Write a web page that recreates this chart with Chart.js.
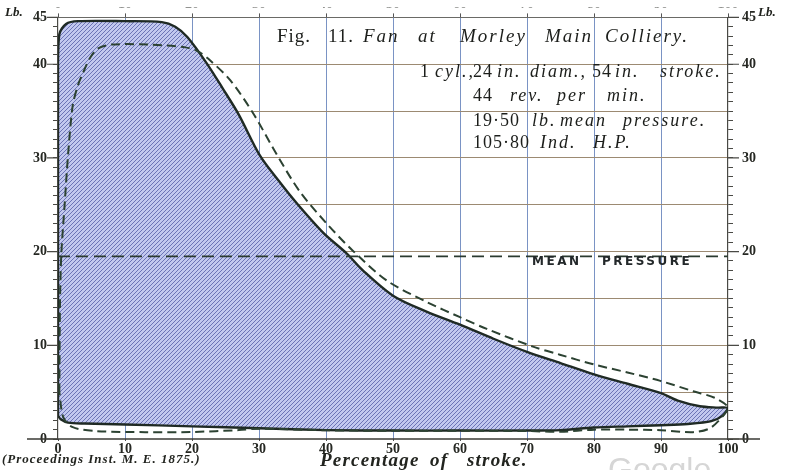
<!DOCTYPE html>
<html><head><meta charset="utf-8">
<script src="https://cdn.jsdelivr.net/npm/chart.js@4.4.0/dist/chart.umd.min.js"></script>
<style>html,body{margin:0;padding:0;background:#fff;overflow:hidden}#wrap{position:relative;width:788px;height:470px}</style>
</head><body><div id="wrap"><canvas id="c" width="788" height="470"></canvas></div>
<script>
// ---- data ----
const strokeMin = 0, strokeMax = 100, strokeStep = 10;      // percentage of stroke
const pressureMin = 0, pressureMax = 45;                      // lb
const pressureLabels = [0, 10, 20, 30, 40, 45];
const meanPressure = 19.5;
const meanX = [0, 100];

// actual indicator diagram (solid, filled loop)
const solidX = [0, 0, 0, 0, 0.2, 1.2, 3, 10, 15.5, 17.5, 19.3, 22.2, 24.6, 27, 30.1, 33, 35.7, 39.6, 43.1, 45.5, 50, 55, 60, 65, 70, 75, 80, 85, 90, 92.5, 95.8, 98.5, 100, 99.2, 97.5, 94, 90, 85, 80, 75, 70, 60, 50, 40, 30, 20, 10, 4, 1.5, 0.4, 0];
const solidY = [2.5, 5, 20, 40, 43.2, 44.3, 44.6, 44.6, 44.5, 44.0, 42.9, 40.1, 37.4, 34.6, 30.3, 27.5, 25.1, 22.0, 19.8, 18.0, 15.3, 13.6, 12.2, 10.7, 9.3, 8.1, 6.9, 5.9, 4.9, 4.1, 3.5, 3.35, 3.3, 2.5, 1.9, 1.6, 1.47, 1.35, 1.22, 0.95, 0.9, 0.9, 0.9, 0.95, 1.15, 1.35, 1.55, 1.65, 1.75, 2.1, 2.5];

// second diagram (dashed loop)
const dashX = [0.2, 0.3, 0.5, 1.0, 1.5, 2.2, 3.0, 3.8, 4.8, 6.0, 8, 13.7, 19, 20.8, 22.4, 25.7, 29.1, 32.7, 36.1, 40.1, 44, 49.1, 55.1, 60, 64, 70.9, 74.9, 79.9, 85, 89.9, 94.8, 98, 100, 99.3, 97.3, 94.8, 90, 85, 80, 75, 70, 60, 50, 40, 30, 27, 20, 13, 5.8, 2.2, 0.8, 0.2];
const dashY = [5, 14.6, 19.8, 25.1, 30.3, 35.6, 37.8, 39.2, 40.7, 41.7, 42.1, 42.1, 41.8, 41.4, 40.6, 38.3, 34.8, 30.3, 26.4, 23.0, 20.1, 16.9, 14.6, 13.0, 11.75, 9.86, 9.0, 7.97, 7.1, 6.2, 5.1, 4.4, 3.4, 2.5, 1.15, 0.73, 0.94, 1.0, 1.0, 0.77, 0.85, 0.88, 0.88, 0.93, 1.1, 0.95, 0.75, 0.73, 0.84, 1.26, 2.3, 5];

// ---- build ----
const pts = (xs, ys) => xs.map((v, i) => ({x: v, y: ys[i]}));

function hatch() {
  const s = 4, c = document.createElement('canvas');
  c.width = s; c.height = s;
  const g = c.getContext('2d');
  g.fillStyle = '#c2c8ef'; g.fillRect(0, 0, s, s);
  g.strokeStyle = '#6c74b6'; g.lineWidth = 1;
  g.beginPath();
  g.moveTo(0, s); g.lineTo(s, 0);
  g.moveTo(-1, 1); g.lineTo(1, -1);
  g.moveTo(s - 1, s + 1); g.lineTo(s + 1, s - 1);
  g.stroke();
  return g.createPattern(c, 'repeat');
}

const numFont = {family: 'Liberation Serif', weight: 'bold', size: 14};
const tickCol = '#262823';

const deco = {
  id: 'deco',
  afterDraw(chart) {
    const {ctx, chartArea: a, scales: {x, y}} = chart;
    const y0 = y.getPixelForValue(0);
    ctx.save();
    ctx.strokeStyle = '#3a3a35'; ctx.lineWidth = 1.5;
    ctx.beginPath(); ctx.moveTo(a.left - 31, y0); ctx.lineTo(a.right + 32, y0); ctx.stroke();
    ctx.lineWidth = 1.2; ctx.strokeStyle = '#4a4a45';
    pressureLabels.forEach(v => {
      const py = y.getPixelForValue(v);
      ctx.beginPath(); ctx.moveTo(a.left - 11, py); ctx.lineTo(a.left, py);
      ctx.moveTo(a.right, py); ctx.lineTo(a.right + 11, py); ctx.stroke();
    });
    ctx.fillStyle = '#22241f';
    ctx.textBaseline = 'alphabetic';
    ctx.font = 'italic bold 13px "Liberation Serif"';
    ctx.fillText('Lb.', 5, 16);
    ctx.fillText('Lb.', 758, 16);

    ctx.fillStyle = '#1c1e1b';
    const put = (items, size, base) => {
      items.forEach(([t, px, it]) => {
        ctx.font = (it ? 'italic ' : '') + size + 'px "Liberation Serif"';
        ctx.letterSpacing = it ? '2px' : '1px';
        ctx.fillText(t, px, base);
      });
    };
    put([['Fig.', 277, 0], ['11.', 328, 0], ['Fan', 363, 1], ['at', 418, 1], ['Morley', 460, 1], ['Main', 545, 1], ['Colliery.', 605, 1]], 19, 42);
    put([['1', 420, 0], ['cyl.,', 435, 1], ['24', 473, 0], ['in.', 497, 1], ['diam.,', 530, 1], ['54', 592, 0], ['in.', 615, 1], ['stroke.', 660, 1]], 18, 77);
    put([['44', 473, 0], ['rev.', 510, 1], ['per', 557, 1], ['min.', 607, 1]], 18, 101);
    put([['19·50', 473, 0], ['lb.', 532, 1], ['mean', 560, 1], ['pressure.', 623, 1]], 18, 126);
    put([['105·80', 473, 0], ['Ind.', 540, 1], ['H.P.', 593, 1]], 18, 148);

    ctx.font = 'bold 12px "DejaVu Sans"';
    ctx.letterSpacing = '2.5px';
    ctx.fillStyle = '#23282a';
    ctx.fillText('MEAN', 532, 265);
    ctx.fillText('PRESSURE', 602, 265);

    ctx.fillStyle = '#22241f';
    ctx.font = 'italic bold 13px "Liberation Serif"';
    ctx.letterSpacing = '1px';
    ctx.fillText('(Proceedings Inst. M. E. 1875.)', 2, 463);
    ctx.font = 'italic bold 19px "Liberation Serif"';
    ctx.letterSpacing = '1.2px';
    ctx.fillText('Percentage', 320, 466);
    ctx.fillText('of', 430, 466);
    ctx.fillText('stroke.', 467, 466);

    ctx.letterSpacing = '0px';
    ctx.fillStyle = '#d6d6d6';
    ctx.font = '32px "Liberation Sans"';
    ctx.fillText('Google', 608, 480);
    ctx.restore();
  }
};

new Chart(document.getElementById('c'), {
  type: 'scatter',
  data: {
    datasets: [
      {data: pts(solidX, solidY), showLine: true, tension: 0.3, borderColor: '#1f2a24', borderWidth: 2.4,
       backgroundColor: hatch(), fill: 'shape', pointRadius: 0, order: 2},
      {data: pts(meanX, [meanPressure, meanPressure]), showLine: true, borderColor: '#2b3a30', borderWidth: 1.8,
       borderDash: [12, 6], fill: false, pointRadius: 0, order: 1},
      {data: pts(dashX, dashY), showLine: true, tension: 0.3, borderColor: '#2c4232', borderWidth: 2,
       borderDash: [9, 5], fill: false, pointRadius: 0, order: 0}
    ]
  },
  options: {
    responsive: false, animation: false, devicePixelRatio: 1,
    layout: {padding: 0},
    plugins: {legend: {display: false}, tooltip: {enabled: false}},
    elements: {point: {radius: 0}},
    scales: {
      x: {type: 'linear', position: 'bottom', min: strokeMin, max: strokeMax, z: 1,
        ticks: {stepSize: strokeStep, font: numFont, color: tickCol, padding: 0, maxRotation: 0},
        grid: {color: c => (c.tick && (c.tick.value === strokeMin || c.tick.value === strokeMax)) ? 'rgba(0,0,0,0)' : '#7a93c4',
               lineWidth: 1, tickLength: 2, tickColor: '#555'},
        border: {display: false},
        afterFit: s => { s.height = 31; }},
      xTop: {type: 'linear', position: 'top', min: strokeMin, max: strokeMax,
        ticks: {stepSize: strokeStep, font: numFont, color: tickCol, padding: 1, maxRotation: 0},
        grid: {drawOnChartArea: false, tickLength: 4, tickColor: '#555'},
        border: {display: true, color: '#6a6a66', width: 1},
        afterFit: s => { s.height = 10; }},
      y: {type: 'linear', position: 'left', min: pressureMin, max: pressureMax, z: 1,
        ticks: {stepSize: 1, autoSkip: false, font: numFont, color: tickCol, padding: 6,
                callback: v => pressureLabels.includes(v) ? String(v) : ''},
        grid: {color: c => (c.tick && c.tick.value % 5 === 0 && c.tick.value > 0 && c.tick.value < pressureMax) ? '#9c8a72' : 'rgba(0,0,0,0)',
               lineWidth: 1, tickLength: 5, tickColor: '#4a4a45'},
        border: {display: true, color: '#4a4a45', width: 1.2},
        afterFit: s => { s.width = 58; }},
      y2: {type: 'linear', position: 'right', min: pressureMin, max: pressureMax,
        ticks: {stepSize: 1, autoSkip: false, font: numFont, color: tickCol, padding: 9,
                callback: v => pressureLabels.includes(v) ? String(v) : ''},
        grid: {drawOnChartArea: false, tickLength: 5, tickColor: '#4a4a45'},
        border: {display: true, color: '#4a4a45', width: 1.2},
        afterFit: s => { s.width = 60; }}
    }
  },
  plugins: [deco]
});
</script></body></html>
